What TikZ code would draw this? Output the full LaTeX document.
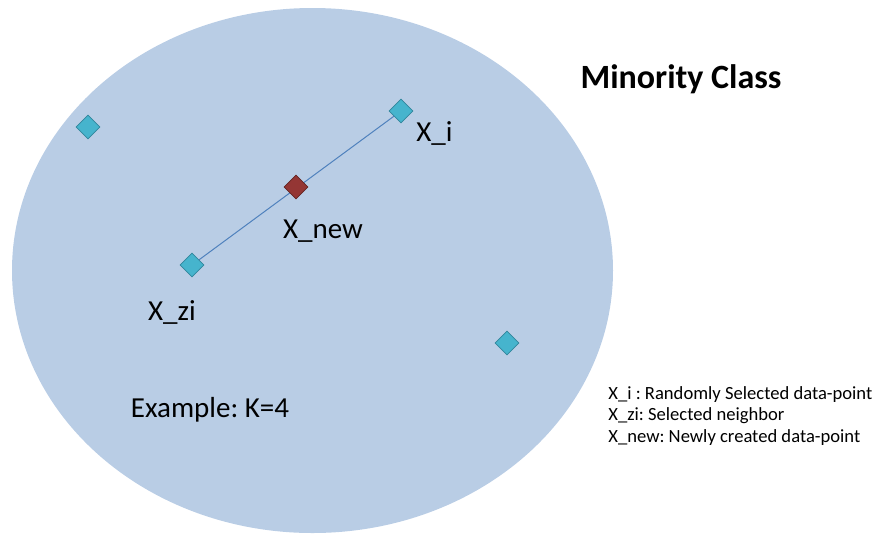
\documentclass[tikz,border=0pt]{standalone}
\usepackage{xcolor}
\usepackage{fontspec}
\setmainfont{Carlito}
\usepackage{tikz}
\usetikzlibrary{shapes.geometric}
\frenchspacing

\definecolor{classfill}{RGB}{185,205,229}
\definecolor{pointfill}{RGB}{70,180,205}
\definecolor{pointedge}{RGB}{49,133,156}
\definecolor{newfill}{RGB}{148,54,52}
\definecolor{newedge}{RGB}{99,37,35}
\definecolor{joinline}{RGB}{79,129,189}

\tikzset{
  datapoint/.style={diamond, draw=pointedge, fill=pointfill, line width=.4pt,
    inner sep=0pt, minimum width=12pt, minimum height=12pt},
  newpoint/.style={datapoint, draw=newedge, fill=newfill},
  ptlabel/.style={font=\fontsize{14.5}{16}\selectfont},
}

\begin{document}
\begin{tikzpicture}[x=.5pt, y=-.5pt]
             \useasboundingbox (0, 0) rectangle (879, 537);

             \fill[classfill] (312.5, 270.5) ellipse (300.5 and 262.5);

             \node[draw=none, font=\fontsize{17}{20}\selectfont\bfseries] (title) at (681, 79) {Minority Class};

             \node[datapoint] (p1) at (88, 127) {};
             \node[datapoint] (xi) at (401, 111) {};
             \node[datapoint] (xzi) at (192, 265) {};
             \node[datapoint] (p4) at (507, 343) {};

             \draw[joinline, line width=.5pt] (xzi) -- (xi);
             \node[newpoint] (xnew) at (296, 187) {};

             \node[ptlabel, anchor=west, inner sep=0pt] (lxi) at (416, 133) {X\_i};
             \node[ptlabel] (lxnew) at (323, 231) {X\_new};
             \node[ptlabel] (lxzi) at (172, 312) {X\_zi};
             \node[ptlabel] (example) at (210, 410) {Example: K=4};

             \node[draw=none, anchor=west, inner sep=0pt, font=\fontsize{9.3}{10.8}\selectfont, align=left] (legend) at (608, 416)
               {X\_i : Randomly Selected data-point\\X\_zi: Selected neighbor\\X\_new: Newly created data-point};
\end{tikzpicture}
\end{document}
